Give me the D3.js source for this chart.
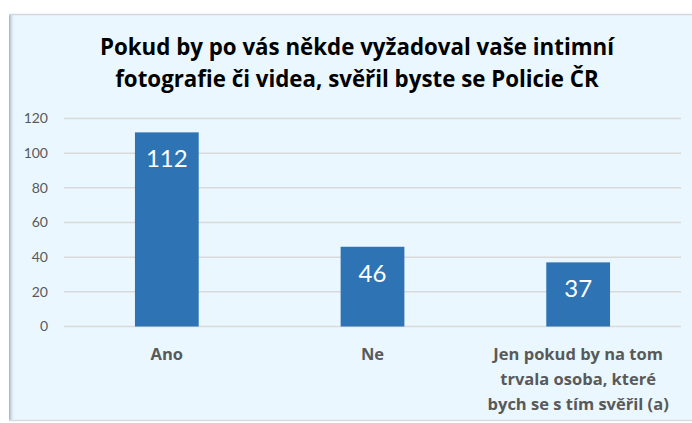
<!DOCTYPE html>
<html>
<head>
<meta charset="utf-8">
<script src="https://cdn.jsdelivr.net/npm/d3@7"></script>
<style>
  body { margin: 0; background: #fff; }
  svg { display: block; }
</style>
</head>
<body>
<div id="chart"></div>
<script>
// chart data
var categories = ["Ano", "Ne", "Jen pokud by na tom trvala osoba, které bych se s tím svěřil (a)"];
var categoryLines = [["Ano"], ["Ne"], ["Jen pokud by na tom", "trvala osoba, které", "bych se s tím svěřil (a)"]];
var values = [112, 46, 37];
var yTicks = [0, 20, 40, 60, 80, 100, 120];
var titleLines = ["Pokud by po vás někde vyžadoval vaše intimní", "fotografie či videa, svěřil byste se Policie ČR"];

var width = 692, height = 423;
var margin = { top: 118.5, right: 11, bottom: 96.5, left: 64 };
var innerW = width - margin.left - margin.right,
    innerH = height - margin.top - margin.bottom;

var svg = d3.select("#chart").append("svg")
    .attr("width", width)
    .attr("height", height);

// frame with left shadow
var defs = svg.append("defs");
var grad = defs.append("linearGradient").attr("id", "shadow");
grad.append("stop").attr("offset", "0%").attr("stop-color", "#9fb0c2");
grad.append("stop").attr("offset", "100%").attr("stop-color", "#ebf7fe").attr("stop-opacity", 0);

svg.append("rect")
    .attr("x", 9).attr("y", 14)
    .attr("width", width - 9).attr("height", 406)
    .attr("fill", "#ebf7fe");
svg.append("rect")
    .attr("x", 9).attr("y", 14)
    .attr("width", 6).attr("height", 406)
    .attr("fill", "url(#shadow)");
svg.append("line")
    .attr("x1", 9).attr("x2", width).attr("y1", 14.5).attr("y2", 14.5)
    .attr("stroke", "#d4d8dc").attr("stroke-width", 1.5);
svg.append("line")
    .attr("x1", 9).attr("x2", width).attr("y1", 420.5).attr("y2", 420.5)
    .attr("stroke", "#d8dde2").attr("stroke-width", 1.5);

// title
svg.append("text")
    .attr("x", 357)
    .attr("text-anchor", "middle")
    .style("font-family", "'Open Sans', sans-serif")
    .style("font-weight", "bold")
    .style("font-size", "22.3px")
    .attr("fill", "#000")
    .selectAll("tspan")
    .data(titleLines)
    .enter().append("tspan")
    .attr("x", 357)
    .attr("y", function(d, i){ return 55 + i * 31.5; })
    .text(function(d){ return d; });

var g = svg.append("g")
    .attr("transform", "translate(" + margin.left + "," + margin.top + ")");

// scales
var x = d3.scaleBand()
    .domain(categories)
    .range([0, innerW])
    .paddingInner(0.69)
    .paddingOuter(0.345);

var y = d3.scaleLinear()
    .domain([0, 120])
    .range([innerH, 0]);

// gridlines
g.selectAll(".grid")
    .data(yTicks)
    .enter().append("line")
    .attr("class", "grid")
    .attr("x1", 0).attr("x2", innerW)
    .attr("y1", function(d){ return y(d); })
    .attr("y2", function(d){ return y(d); })
    .attr("stroke", "#d9d9d9")
    .attr("stroke-width", 1.5);

// y axis labels
var yAxis = d3.axisLeft(y).tickValues(yTicks).tickSize(0).tickPadding(16);
g.append("g")
    .attr("class", "y-axis")
    .call(yAxis)
    .call(function(s){ s.select(".domain").remove(); })
    .selectAll("text")
    .style("font-family", "Lato, 'Open Sans', sans-serif")
    .style("font-size", "14px")
    .attr("fill", "#595959");

// bars
g.selectAll(".bar")
    .data(values)
    .enter().append("rect")
    .attr("class", "bar")
    .attr("x", function(d, i){ return x(categories[i]); })
    .attr("y", function(d){ return y(d); })
    .attr("width", x.bandwidth())
    .attr("height", function(d){ return innerH - y(d); })
    .attr("fill", "#2e74b5");

// value labels
g.selectAll(".val")
    .data(values)
    .enter().append("text")
    .attr("class", "val")
    .attr("x", function(d, i){ return x(categories[i]) + x.bandwidth() / 2; })
    .attr("y", function(d){ return y(d) + 35; })
    .attr("text-anchor", "middle")
    .style("font-family", "Lato, 'Open Sans', sans-serif")
    .style("font-size", "24px")
    .attr("fill", "#fff")
    .text(function(d){ return d; });

// x category labels
var xl = g.selectAll(".cat")
    .data(categories)
    .enter().append("text")
    .attr("class", "cat")
    .attr("text-anchor", "middle")
    .style("font-family", "'Open Sans', sans-serif")
    .style("font-weight", "bold")
    .style("font-size", "16.5px")
    .attr("fill", "#595959");

xl.selectAll("tspan")
    .data(function(d, i){ return categoryLines[i].map(function(t){ return { t: t, c: d }; }); })
    .enter().append("tspan")
    .attr("x", function(d){ return x(d.c) + x.bandwidth() / 2; })
    .attr("y", function(d, j){ return innerH + 33 + j * 25; })
    .text(function(d){ return d.t; });
</script>
</body>
</html>
